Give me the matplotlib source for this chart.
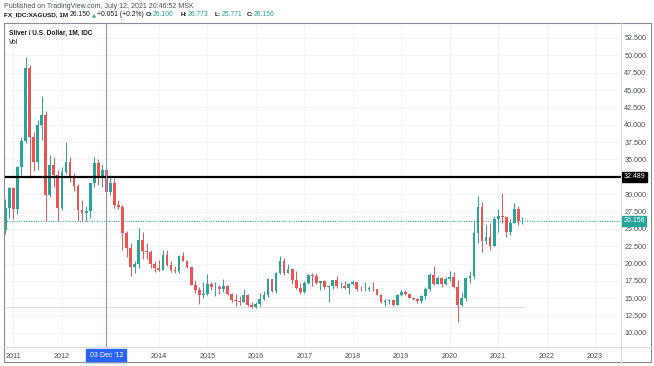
import matplotlib
matplotlib.use("Agg")
import matplotlib.pyplot as plt
from matplotlib.lines import Line2D
import numpy as np

# monthly candles, Nov 2010 .. Jul 2021 (index 0 = Jan 2011)
months = np.arange(-2, 127)

opens = [24.8, 28.0,
         30.9, 27.9, 33.9, 37.6, 48.2, 38.3, 34.6, 39.9, 41.4, 29.9, 34.2, 32.8,
         28.0, 33.2, 34.6, 32.3, 31.2, 27.7, 27.3, 27.6, 31.6, 34.5, 32.3, 33.5,
         30.3, 31.6, 28.4, 28.2, 24.4, 22.2, 19.5, 19.9, 23.4, 21.8, 21.6, 20.0,
         19.4, 19.1, 21.2, 19.8, 19.1, 18.9, 21.1, 20.4, 19.5, 16.9, 16.2, 15.5,
         15.6, 17.1, 16.6, 16.6, 16.3, 16.8, 15.6, 14.7, 14.6, 14.5, 15.5, 14.1,
         13.8, 14.2, 14.9, 15.4, 17.8, 16.0, 18.6, 20.3, 18.7, 19.2, 17.7, 16.5,
         15.9, 17.2, 18.4, 18.2, 17.2, 17.5, 16.6, 16.7, 17.6, 16.7, 16.7, 16.5,
         17.0, 17.3, 16.4, 16.3, 16.4, 16.4, 16.3, 15.5, 14.5, 14.6, 14.7, 14.1,
         15.5, 15.9, 15.6, 15.1, 14.9, 14.6, 15.3, 16.4, 18.4, 17.0, 17.9, 17.0,
         17.8, 18.0, 16.6, 14.0, 15.0, 17.9, 18.2, 24.4, 28.2, 23.3, 23.8, 22.6,
         26.4, 26.9, 26.7, 24.5, 25.9, 27.9, 26.100]
highs = [29.3, 31.0,
         31.0, 34.0, 38.2, 49.8, 48.6, 38.9, 40.7, 44.2, 42.0, 35.6, 35.4, 33.5,
         33.9, 37.5, 35.4, 33.0, 31.5, 29.2, 28.3, 31.6, 35.4, 35.0, 34.3, 34.0,
         32.5, 32.4, 29.2, 28.5, 24.7, 23.0, 20.4, 25.1, 24.5, 22.9, 21.9, 20.3,
         20.5, 22.0, 21.9, 20.3, 19.7, 21.2, 21.6, 20.5, 19.5, 17.7, 16.6, 17.3,
         18.5, 17.4, 17.3, 16.9, 17.8, 16.9, 15.8, 15.6, 15.3, 16.4, 15.6, 14.5,
         14.4, 15.8, 16.0, 17.9, 17.8, 18.8, 21.1, 20.8, 20.0, 19.3, 18.9, 17.2,
         17.5, 18.5, 18.6, 18.6, 17.5, 17.7, 16.9, 17.7, 18.2, 17.4, 17.5, 17.2,
         17.7, 17.4, 16.8, 17.3, 16.7, 17.3, 16.3, 15.6, 14.9, 14.9, 14.8, 15.6,
         16.2, 16.2, 15.6, 15.2, 15.0, 15.5, 16.6, 18.6, 19.6, 18.2, 18.0, 18.1,
         18.9, 18.8, 17.6, 15.7, 18.1, 18.9, 26.2, 29.8, 28.9, 25.6, 25.9, 26.8,
         27.9, 30.1, 26.7, 26.4, 28.7, 28.3, 26.773]
lows = [24.3, 26.6,
        26.4, 27.2, 32.8, 37.4, 32.3, 33.4, 33.5, 37.8, 26.1, 29.6, 31.1, 26.1,
        27.7, 32.9, 31.7, 30.4, 26.1, 26.1, 26.2, 26.6, 31.0, 31.3, 31.0, 29.6,
        29.9, 28.0, 27.9, 22.0, 20.9, 18.2, 18.7, 19.4, 20.6, 20.7, 19.4, 18.8,
        19.0, 19.1, 19.6, 18.8, 18.7, 18.6, 20.3, 19.3, 16.9, 15.7, 14.2, 15.1,
        15.5, 16.2, 15.3, 15.6, 15.9, 15.5, 14.4, 13.9, 14.0, 14.4, 13.9, 13.6,
        13.6, 13.9, 14.8, 15.2, 15.9, 15.8, 18.5, 18.4, 18.6, 17.0, 16.3, 15.6,
        15.8, 17.1, 16.8, 17.0, 16.2, 16.4, 14.4, 16.3, 16.5, 16.5, 16.4, 15.6,
        16.9, 16.1, 16.0, 16.1, 16.1, 16.0, 15.4, 14.3, 13.9, 14.2, 13.9, 14.0,
        15.3, 15.5, 15.0, 14.7, 14.3, 14.3, 14.9, 16.1, 16.9, 17.0, 16.6, 16.9,
        17.5, 16.5, 11.6, 13.9, 14.6, 17.2, 17.8, 23.0, 21.7, 22.8, 21.9, 22.6,
        24.5, 25.9, 23.8, 24.1, 25.8, 25.6, 25.771]
closes = [28.0, 30.9,
          27.9, 33.9, 37.6, 48.2, 38.3, 34.6, 39.9, 41.4, 29.9, 34.2, 32.8, 28.0,
          33.2, 34.6, 32.3, 31.2, 27.7, 27.3, 27.6, 31.6, 34.5, 32.3, 33.5, 30.3,
          31.6, 28.4, 28.2, 24.4, 22.2, 19.5, 19.9, 23.4, 21.8, 21.6, 20.0, 19.4,
          19.1, 21.2, 19.8, 19.1, 18.9, 21.1, 20.4, 19.5, 16.9, 16.2, 15.5, 15.6,
          17.1, 16.6, 16.6, 16.3, 16.8, 15.6, 14.7, 14.6, 14.5, 15.5, 14.1, 13.8,
          14.2, 14.9, 15.4, 17.8, 16.0, 18.6, 20.3, 18.7, 19.2, 17.7, 16.5, 15.9,
          17.2, 18.4, 18.2, 17.2, 17.5, 16.6, 16.7, 17.6, 16.7, 16.7, 16.5, 17.0,
          17.3, 16.4, 16.3, 16.4, 16.4, 16.3, 15.5, 14.5, 14.6, 14.7, 14.1, 15.5,
          15.9, 15.6, 15.1, 14.9, 14.6, 15.3, 16.4, 18.4, 17.0, 17.9, 17.0, 17.8,
          18.0, 16.6, 14.0, 15.0, 17.9, 18.2, 24.4, 28.2, 23.3, 23.8, 22.6, 26.4,
          26.9, 26.7, 24.5, 25.9, 27.9, 26.1, 26.156]

# 2013 is hidden behind the crosshair date label in the original
years = ['2011', '2012', '', '2014', '2015', '2016', '2017', '2018',
         '2019', '2020', '2021', '2022', '2023']
year_pos = [0, 12, 24, 36, 48, 60, 72, 84, 96, 108, 120, 132, 144]
price_ticks = np.arange(10.0, 53.0, 2.5)

level_price = 32.489
last_price = 26.156
low_line = 13.74
cross_month = 23  # Dec 2012

ohlc_labels = ['O:', 'H:', 'L:', 'C:']
ohlc_values = ['26.100', '26.773', '25.771', '26.156']

UP = '#26a69a'
DOWN = '#ef5350'
TXT = '#131722'
W, H = 654, 366


def fx(px):
    return px / W


def fy(py):
    return 1 - py / H


plt.rcParams['font.family'] = ['Liberation Sans', 'DejaVu Sans']

fig = plt.figure(figsize=(W / 100, H / 100), dpi=100)
fig.patch.set_facecolor('white')
ax = fig.add_axes([fx(4), fy(347), (621 - 4) / W, (347 - 23) / H])

o = np.array(opens)
hi = np.array(highs)
lo = np.array(lows)
c = np.array(closes)
cols = np.where(c >= o, UP, DOWN)

ax.vlines(months, lo, hi, colors=cols, lw=0.7, zorder=3)
body = np.maximum(np.abs(c - o), 0.08)
ax.bar(months, body, bottom=np.minimum(o, c), width=0.68, color=cols, zorder=4)

ax.set_xlim(-2.33, 150.4)
ax.set_ylim(7.98, 54.66)

# grid
for p in price_ticks:
    ax.axhline(p, color='#f0f2f6', lw=0.6, zorder=0)
for xp in year_pos:
    ax.axvline(xp, color='#f0f2f6', lw=0.6, zorder=0)

ax.axhline(level_price, color='black', lw=1.6, zorder=5)
ax.axhline(last_price, color=UP, lw=0.7, ls=(0, (1, 1.5)), zorder=2)
ax.hlines(low_line, -2.33, months[-1] + 0.4, color='#e3d8d8', lw=0.7, zorder=1)
ax.axvline(cross_month, color='#7c97ea', lw=0.8, zorder=6)

for s in ax.spines.values():
    s.set_visible(False)

ax.yaxis.tick_right()
ax.set_yticks(price_ticks)
ax.set_yticklabels(['{:.3f}'.format(p) for p in price_ticks])
ax.set_xticks(year_pos)
ax.set_xticklabels(years)
ax.tick_params(axis='y', length=0, pad=2.4, labelsize=5.2, labelcolor='#4a4e59')
ax.tick_params(axis='x', length=0, pad=4.0, labelsize=5.2, labelcolor='#4a4e59')

ytr = ax.get_yaxis_transform()
for price, fc in [(level_price, 'black'), (last_price, UP)]:
    ax.text(1.0 + 2.5 / 617, price, '{:.3f}'.format(price), transform=ytr,
            ha='left', va='center', fontsize=5.0, color='white', clip_on=False, zorder=10,
            bbox=dict(boxstyle='square,pad=0.18', fc=fc, ec=fc))

xtr = ax.get_xaxis_transform()
ax.text(cross_month, -8.5 / 324, "03 Dec '12", transform=xtr, ha='center', va='center',
        fontsize=5.0, color='white', clip_on=False, zorder=10,
        bbox=dict(boxstyle='square,pad=0.45', fc='#2962ff', ec='#2962ff'))

# frame lines
frame = '#8a8d96'
sep = '#d6d9e0'
fig.add_artist(Line2D([fx(4), fx(651), fx(651), fx(4), fx(4)],
                      [fy(23), fy(23), fy(362), fy(362), fy(23)], color=frame, lw=0.8))
fig.add_artist(Line2D([fx(621), fx(621)], [fy(23), fy(362)], color=sep, lw=0.7))
fig.add_artist(Line2D([fx(4), fx(651)], [fy(347), fy(347)], color=sep, lw=0.7))

# header
fig.text(fx(4), fy(6), 'Published on TradingView.com, July 12, 2021 20:46:52 MSK',
         fontsize=5.0, color='#4a4e59', va='center')
y2 = fy(15)
fig.text(fx(4.5), y2, 'FX_IDC:XAGUSD, 1M', fontsize=4.6, fontweight='bold', color=TXT, va='center')
fig.text(fx(70), y2, '26.150', fontsize=4.9, color=TXT, va='center')
fig.text(fx(91.5), y2, '\u25b2', fontsize=3.8, color=UP, va='center', family='DejaVu Sans')
fig.text(fx(97), y2, '+0.051 (+0.2%)', fontsize=4.9, color=TXT, va='center')
for lab, val, lx in zip(ohlc_labels, ohlc_values, [146, 181, 215, 247]):
    fig.text(fx(lx), y2, lab, fontsize=4.6, fontweight='bold', color=TXT, va='center')
    fig.text(fx(lx + 6.5), y2, val, fontsize=4.9, color=UP, va='center')

fig.text(fx(9), fy(33), 'Silver / U.S. Dollar, 1M, IDC', fontsize=4.7,
         fontweight='bold', color=TXT, va='center')
fig.text(fx(9), fy(42), 'Vol', fontsize=4.8, color=TXT, va='center')

fig.savefig('out.png', dpi=100)
